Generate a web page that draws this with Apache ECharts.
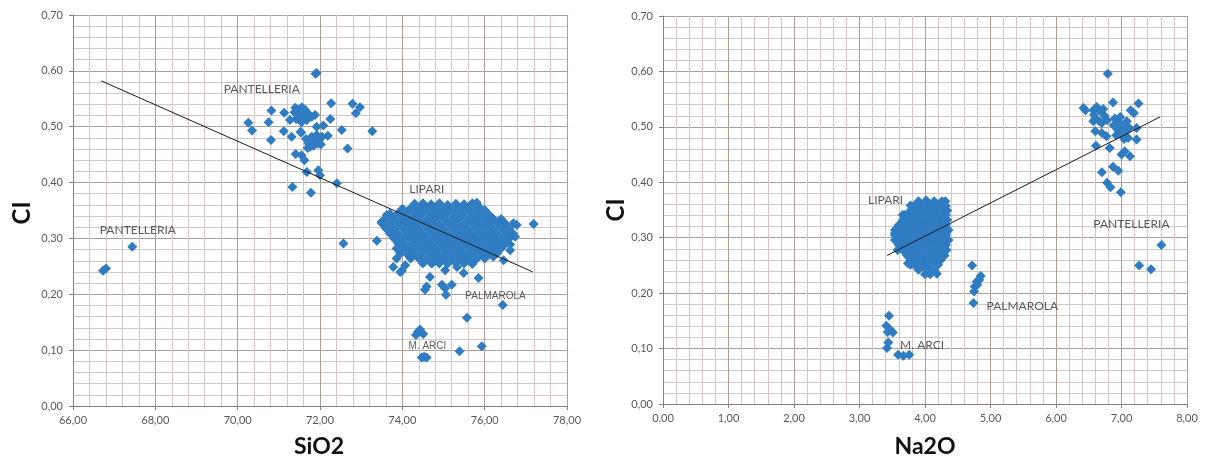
<!DOCTYPE html>
<html>
<head>
<meta charset="utf-8">
<script src="https://cdn.jsdelivr.net/npm/echarts@6/dist/echarts.min.js"></script>
<style>html,body{margin:0;padding:0;background:#fff}#c{width:1206px;height:461px}</style>
</head>
<body>
<div id="c"></div>
<script>
// ---------- DATA: left chart (SiO2 vs Cl) ----------
const pantelleriaSiO2 = [
[71.89,0.595],[71.92,0.596],[70.26,0.507],[70.35,0.493],[70.82,0.529],[70.75,0.508],[70.81,0.476],[71.13,0.525],[71.12,0.492],[71.31,0.482],[71.27,0.512],
[71.40,0.534],[71.48,0.530],[71.56,0.535],[71.62,0.528],[71.45,0.522],[71.52,0.518],[71.60,0.520],[71.68,0.512],[71.42,0.514],[71.55,0.508],[71.64,0.530],[71.50,0.526],[71.70,0.524],[71.38,0.526],
[71.54,0.489],[71.53,0.491],[71.88,0.521],[71.80,0.518],[71.92,0.500],[72.08,0.502],[72.27,0.542],[72.25,0.514],[72.53,0.494],[72.79,0.541],[72.87,0.524],[72.97,0.535],[73.27,0.492],[72.67,0.461],
[71.66,0.478],[71.72,0.470],[71.80,0.482],[71.86,0.474],[71.92,0.485],[71.98,0.476],[72.05,0.482],[71.76,0.464],[71.84,0.466],[71.70,0.462],[71.94,0.470],[72.02,0.468],[72.19,0.484],
[71.41,0.451],[71.55,0.449],[71.62,0.440],[71.68,0.419],[71.96,0.422],[72.00,0.413],[72.41,0.399],[71.33,0.392],[71.78,0.382],
[67.44,0.285],[66.73,0.242],[66.80,0.246]
];
const lipariSiO2 = [
[74.30,0.362],[74.50,0.363],[74.70,0.361],[74.90,0.363],[75.10,0.360],[75.30,0.362],[75.50,0.361],[75.70,0.363],[75.84,0.358],
[74.00,0.353],[74.20,0.354],[74.40,0.352],[74.60,0.354],[74.80,0.353],[75.00,0.354],[75.20,0.352],[75.40,0.354],[75.60,0.353],[75.80,0.354],[76.00,0.351],
[73.70,0.344],[73.90,0.345],[74.10,0.345],[74.30,0.344],[74.50,0.345],[74.70,0.344],[74.90,0.345],[75.10,0.345],[75.30,0.344],[75.50,0.345],[75.70,0.344],[75.90,0.345],[76.10,0.343],
[73.60,0.336],[73.80,0.335],[74.00,0.336],[74.20,0.335],[74.40,0.336],[74.60,0.335],[74.80,0.336],[75.00,0.336],[75.20,0.335],[75.40,0.336],[75.60,0.335],[75.80,0.336],[76.00,0.335],[76.20,0.336],[76.40,0.335],
[73.50,0.327],[73.70,0.326],[73.90,0.327],[74.10,0.327],[74.30,0.326],[74.50,0.327],[74.70,0.327],[74.90,0.326],[75.10,0.327],[75.30,0.327],[75.50,0.326],[75.70,0.327],[75.90,0.327],[76.10,0.326],[76.30,0.327],[76.50,0.326],[76.70,0.327],
[73.60,0.318],[73.80,0.317],[74.00,0.318],[74.20,0.318],[74.40,0.317],[74.60,0.318],[74.80,0.318],[75.00,0.317],[75.20,0.318],[75.40,0.318],[75.60,0.317],[75.80,0.318],[76.00,0.318],[76.20,0.317],[76.40,0.318],[76.60,0.317],
[73.70,0.309],[73.90,0.308],[74.10,0.309],[74.30,0.309],[74.50,0.308],[74.70,0.309],[74.90,0.309],[75.10,0.308],[75.30,0.309],[75.50,0.309],[75.70,0.308],[75.90,0.309],[76.10,0.309],[76.30,0.308],[76.50,0.309],[76.70,0.308],
[73.80,0.300],[74.00,0.299],[74.20,0.300],[74.40,0.300],[74.60,0.299],[74.80,0.300],[75.00,0.300],[75.20,0.299],[75.40,0.300],[75.60,0.300],[75.80,0.299],[76.00,0.300],[76.20,0.300],[76.40,0.299],[76.60,0.300],
[73.90,0.291],[74.10,0.290],[74.30,0.291],[74.50,0.291],[74.70,0.290],[74.90,0.291],[75.10,0.291],[75.30,0.290],[75.50,0.291],[75.70,0.291],[75.90,0.290],[76.10,0.291],[76.30,0.291],[76.50,0.290],[76.62,0.289],
[73.86,0.282],[74.00,0.282],[74.20,0.281],[74.40,0.282],[74.60,0.282],[74.80,0.281],[75.00,0.282],[75.20,0.282],[75.40,0.281],[75.60,0.282],[75.80,0.282],[76.00,0.281],[76.20,0.282],[76.40,0.282],
[73.95,0.273],[74.10,0.273],[74.30,0.272],[74.50,0.273],[74.70,0.273],[74.90,0.272],[75.10,0.273],[75.30,0.273],[75.50,0.272],[75.70,0.273],[75.90,0.273],[76.10,0.272],[76.30,0.273],
[74.20,0.264],[74.40,0.264],[74.60,0.263],[74.80,0.264],[75.00,0.264],[75.20,0.263],[75.40,0.264],[75.60,0.264],[75.80,0.263],[76.00,0.264],
[74.50,0.255],[74.70,0.256],[74.90,0.255],[75.10,0.255],[75.30,0.256],[75.50,0.255],[75.70,0.254],
[73.38,0.296],[73.50,0.330],[73.62,0.342],[73.78,0.249],[73.95,0.240],[73.86,0.264],[74.07,0.252],[74.03,0.351],[74.43,0.354],[75.81,0.364],[75.85,0.357],
[76.13,0.333],[76.46,0.330],[76.78,0.324],[77.19,0.326],[76.54,0.312],[76.74,0.303],[76.62,0.279],[76.46,0.261],[76.21,0.267],
[74.72,0.255],[75.04,0.243],[75.33,0.249],[75.49,0.238],[75.85,0.229],[74.67,0.231],[74.59,0.214],[74.96,0.217],[75.04,0.211],[75.20,0.217],[74.55,0.208],[75.06,0.199],[73.99,0.242],
[72.57,0.291]
];
const palmarolaSiO2 = [[76.44,0.181],[75.57,0.158],[75.93,0.107],[75.39,0.098]];
const arciSiO2 = [[74.33,0.127],[74.43,0.137],[74.51,0.129],[74.38,0.133],[74.47,0.087],[74.59,0.087],[74.53,0.088]];
const trendSiO2 = [[66.69,0.582],[77.17,0.240]];
const labelsSiO2 = [
  {name:'PANTELLERIA', value:[69.66,0.567], font:'Lato', size:12},
  {name:'LIPARI', value:[74.17,0.388], font:'Lato', size:12},
  {name:'PANTELLERIA', value:[66.65,0.315], font:'Lato', size:12},
  {name:'PALMAROLA', value:[75.53,0.197], font:'Liberation Sans', size:10},
  {name:'M. ARCI', value:[74.15,0.107], font:'Liberation Sans', size:10}
];

// ---------- DATA: right chart (Na2O vs Cl) ----------
const pantelleriaNa2O = [
[6.79,0.596],[6.42,0.534],[6.45,0.530],[7.26,0.542],[6.87,0.544],
[6.57,0.530],[6.62,0.536],[6.68,0.528],[6.74,0.520],[6.60,0.515],[6.66,0.510],[6.72,0.532],[6.78,0.512],[6.70,0.507],[6.58,0.522],
[7.14,0.530],[7.19,0.525],
[6.90,0.515],[6.96,0.508],[7.02,0.500],[6.94,0.495],[7.00,0.486],[7.06,0.492],[7.10,0.480],[6.88,0.503],[7.08,0.510],[6.98,0.518],[7.12,0.498],[6.92,0.485],[7.04,0.478],
[6.57,0.510],[6.60,0.492],[6.70,0.489],[6.77,0.483],[6.61,0.466],[6.82,0.462],[7.23,0.498],[7.23,0.477],[7.05,0.456],[7.13,0.447],[7.00,0.450],
[6.70,0.418],[6.87,0.428],[6.95,0.421],[6.78,0.399],[6.83,0.391],[6.99,0.382],
[7.61,0.287],[7.27,0.250],[7.45,0.243]
];
const lipariNa2O = [
[3.90,0.366],[4.02,0.367],[4.14,0.366],[4.26,0.366],[4.31,0.366],
[3.78,0.358],[3.84,0.358],[3.96,0.357],[4.08,0.358],[4.20,0.358],[4.32,0.357],
[3.78,0.349],[3.90,0.350],[4.02,0.349],[4.14,0.349],[4.26,0.350],[4.34,0.349],
[3.66,0.341],[3.72,0.341],[3.84,0.340],[3.96,0.341],[4.08,0.341],[4.20,0.340],[4.32,0.341],
[3.66,0.332],[3.78,0.332],[3.90,0.331],[4.02,0.332],[4.14,0.332],[4.26,0.331],[4.34,0.332],
[3.60,0.323],[3.72,0.323],[3.84,0.322],[3.96,0.323],[4.08,0.323],[4.20,0.322],[4.32,0.323],
[3.54,0.314],[3.66,0.314],[3.78,0.313],[3.90,0.314],[4.02,0.314],[4.14,0.313],[4.26,0.314],[4.36,0.314],
[3.54,0.305],[3.60,0.305],[3.72,0.304],[3.84,0.305],[3.96,0.305],[4.08,0.304],[4.20,0.305],[4.32,0.305],
[3.54,0.296],[3.66,0.296],[3.78,0.295],[3.90,0.296],[4.02,0.296],[4.14,0.295],[4.26,0.296],[4.36,0.296],
[3.60,0.287],[3.72,0.287],[3.84,0.286],[3.96,0.287],[4.08,0.287],[4.20,0.286],[4.32,0.287],
[3.58,0.278],[3.66,0.278],[3.78,0.277],[3.90,0.278],[4.02,0.278],[4.14,0.277],[4.26,0.278],[4.33,0.278],
[3.72,0.269],[3.84,0.269],[3.96,0.268],[4.08,0.269],[4.20,0.269],[4.30,0.268],
[3.78,0.260],[3.90,0.260],[4.02,0.259],[4.14,0.260],[4.24,0.260],
[3.78,0.251],[3.84,0.251],[3.96,0.250],[4.08,0.251],[4.20,0.251],
[3.90,0.242],[4.02,0.242],[4.14,0.241],
[4.00,0.234],[4.08,0.234],[4.18,0.235],
[3.69,0.341],[3.57,0.305],[3.62,0.281],[3.74,0.254],[3.54,0.308]
];
const palmarolaNa2O = [[4.72,0.250],[4.85,0.231],[4.79,0.221],[4.76,0.212],[4.75,0.203],[4.74,0.182],[4.83,0.224],[4.80,0.215]];
const arciNa2O = [[3.45,0.159],[3.41,0.141],[3.47,0.134],[3.51,0.129],[3.43,0.130],[3.44,0.111],[3.42,0.101],[3.59,0.089],[3.67,0.087],[3.76,0.089]];
const trendNa2O = [[3.42,0.268],[7.59,0.518]];
const labelsNa2O = [
  {name:'LIPARI', value:[3.13,0.367], font:'Lato', size:12},
  {name:'PANTELLERIA', value:[6.57,0.325], font:'Lato', size:12},
  {name:'PALMAROLA', value:[4.94,0.177], font:'Lato', size:12},
  {name:'M. ARCI', value:[3.62,0.106], font:'Lato', size:12}
];

// ---------- CHART ----------
const POINT = '#2f7cc2';
const fmt = v => v.toFixed(2).replace('.', ',');
const chart = echarts.init(document.getElementById('c'), null, {renderer:'canvas'});

function xAx(i, min, max, step){
  return {gridIndex:i, type:'value', min:min, max:max, interval:step,
    axisLine:{show:true, onZero:false, lineStyle:{color:'#8a7f7c', width:1}},
    axisTick:{show:true, length:4, lineStyle:{color:'#8a7f7c'}},
    axisLabel:{formatter:fmt, color:'#595959', fontFamily:'Lato', fontSize:11, margin:9},
    splitLine:{show:true, lineStyle:{color:'#ad9d98', width:1}},
    minorTick:{show:false, splitNumber:5},
    minorSplitLine:{show:true, lineStyle:{color:'#d2c7c4', width:1}}};
}
function yAx(i){
  return {gridIndex:i, type:'value', min:0, max:0.7, interval:0.1,
    axisLine:{show:true, onZero:false, lineStyle:{color:'#8a7f7c', width:1}},
    axisTick:{show:true, length:4, lineStyle:{color:'#8a7f7c'}},
    axisLabel:{formatter:fmt, color:'#595959', fontFamily:'Lato', fontSize:11, margin:10},
    splitLine:{show:true, lineStyle:{color:'#ad9d98', width:1}},
    minorTick:{show:false, splitNumber:5},
    minorSplitLine:{show:true, lineStyle:{color:'#d2c7c4', width:1}}};
}
function pts(data, i){
  return {type:'scatter', xAxisIndex:i, yAxisIndex:i, data:data, symbol:'diamond', symbolSize:10,
    itemStyle:{color:POINT, opacity:1}, z:3, silent:true};
}
function trend(data, i){
  return {type:'line', xAxisIndex:i, yAxisIndex:i, data:data, symbol:'none',
    lineStyle:{color:'#1a1a1a', width:1}, z:5, silent:true};
}
function labels(data, i){
  return {type:'scatter', xAxisIndex:i, yAxisIndex:i, symbolSize:0, z:6, silent:true,
    itemStyle:{color:'transparent'},
    data:data.map(d => ({name:d.name, value:d.value,
      label:{show:true, position:'right', distance:0, formatter:'{b}', color:'#333333',
             fontFamily:d.font, fontSize:d.size}}))};
}

chart.setOption({
  animation:false,
  backgroundColor:'#ffffff',
  grid:[{left:73, right:639, top:15, bottom:55},{left:663, right:19, top:16, bottom:57}],
  xAxis:[xAx(0,66,78,2), xAx(1,0,8,1)],
  yAxis:[yAx(0), yAx(1)],
  series:[
    pts(pantelleriaSiO2,0), pts(lipariSiO2,0), pts(palmarolaSiO2,0), pts(arciSiO2,0),
    trend(trendSiO2,0), labels(labelsSiO2,0),
    pts(pantelleriaNa2O,1), pts(lipariNa2O,1), pts(palmarolaNa2O,1), pts(arciNa2O,1),
    trend(trendNa2O,1), labels(labelsNa2O,1)
  ],
  graphic:[
    {type:'text', x:22, y:213, rotation:Math.PI/2, style:{text:'CI', fontFamily:'Lato', fontWeight:'bold', fontSize:24, fill:'#111', align:'center', verticalAlign:'middle'}},
    {type:'text', x:319, y:447, style:{text:'SiO2', fontFamily:'Lato', fontWeight:'bold', fontSize:23, fill:'#111', align:'center', verticalAlign:'middle'}},
    {type:'text', x:616, y:210, rotation:Math.PI/2, style:{text:'CI', fontFamily:'Lato', fontWeight:'bold', fontSize:24, fill:'#111', align:'center', verticalAlign:'middle'}},
    {type:'text', x:925, y:447, style:{text:'Na2O', fontFamily:'Lato', fontWeight:'bold', fontSize:23, fill:'#111', align:'center', verticalAlign:'middle'}}
  ]
});
</script>
</body>
</html>
